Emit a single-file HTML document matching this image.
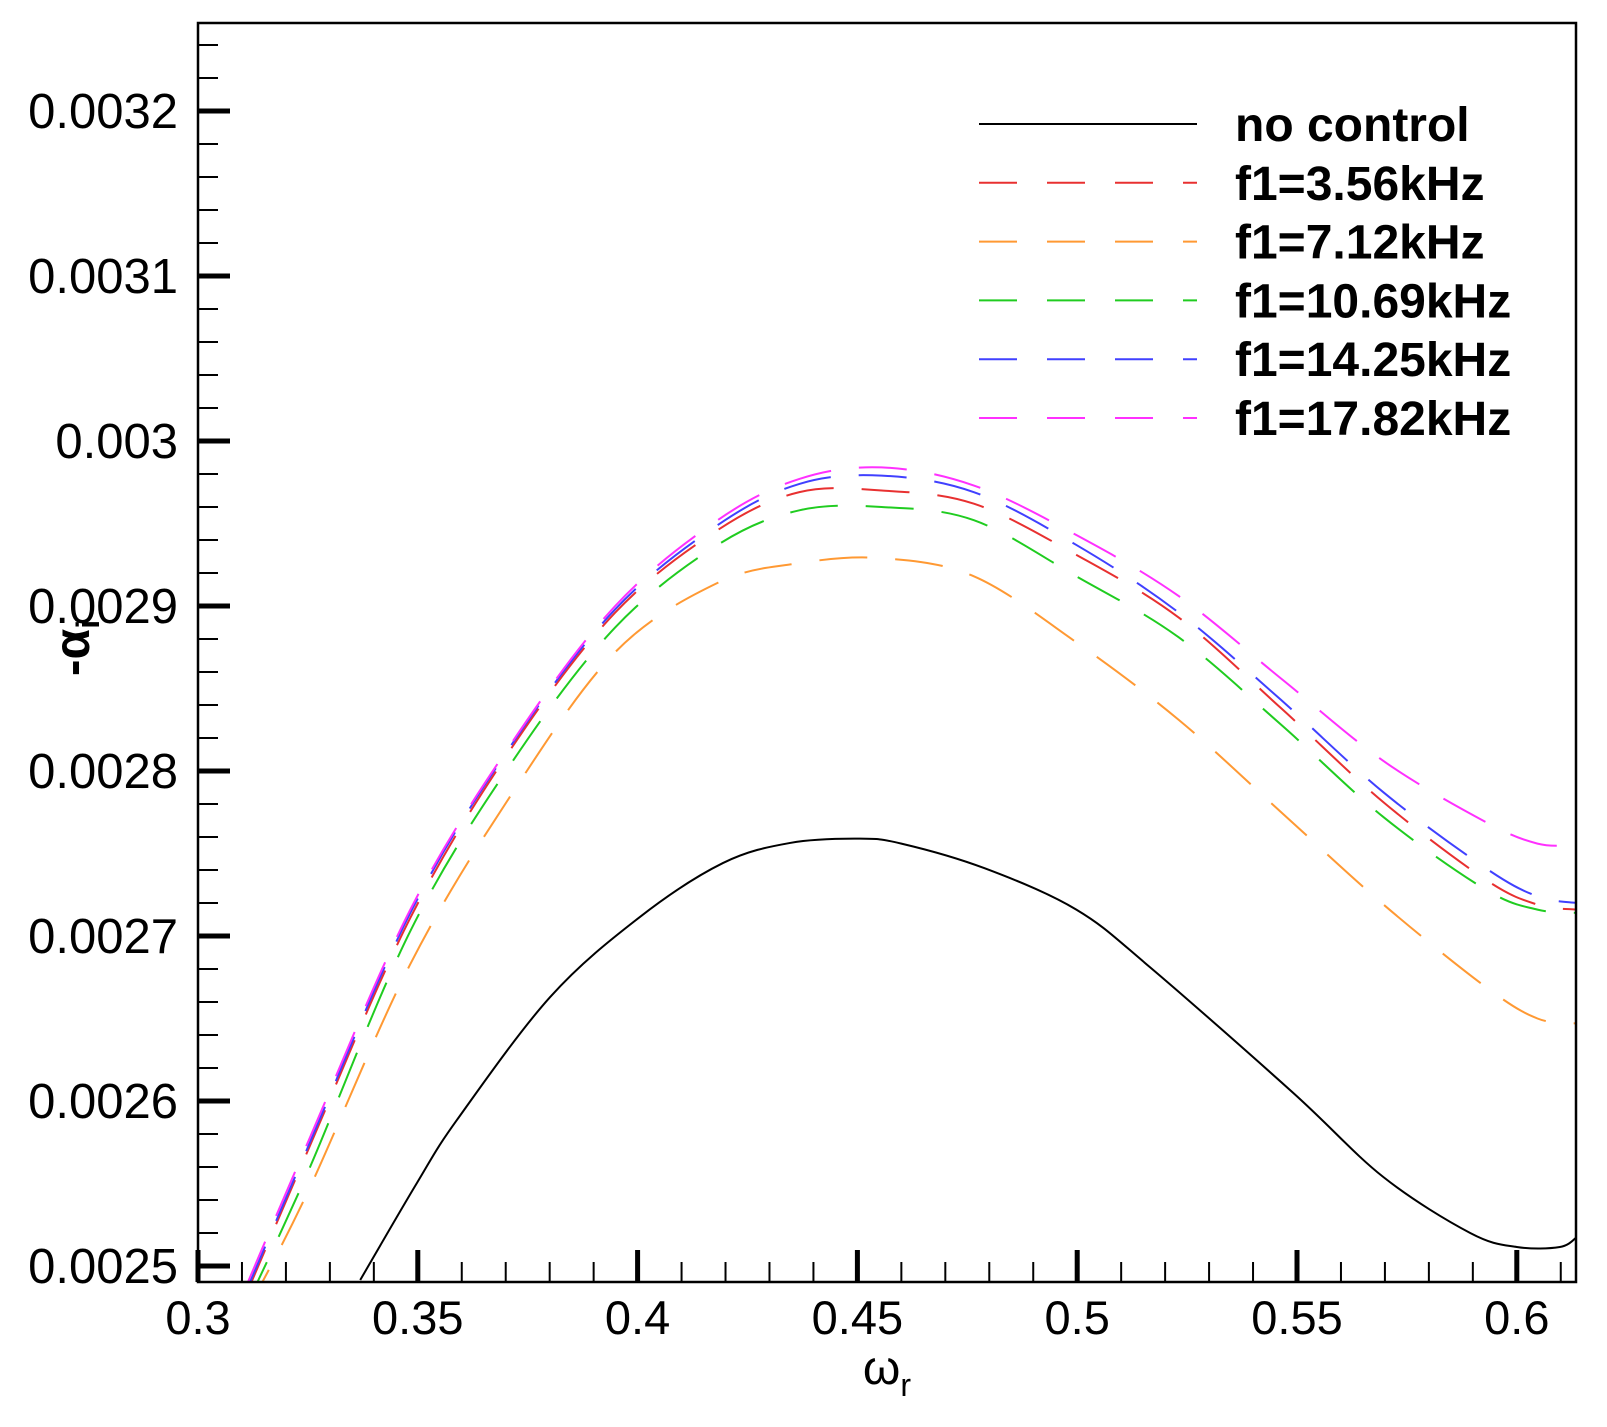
<!DOCTYPE html>
<html><head><meta charset="utf-8"><style>
body{margin:0;background:#fff}
svg{display:block;font-family:"Liberation Sans",Arial,sans-serif}
</style></head><body>
<svg id="chart" width="1607" height="1427" viewBox="0 0 1607 1427">
<defs><clipPath id="clip"><rect x="198" y="23" width="1378" height="1259"/></clipPath></defs>
<g id="ticks"></g>
<g id="curves" clip-path="url(#clip)"></g>
<rect x="198" y="23" width="1378" height="1259" fill="none" stroke="#000" stroke-width="2.5"/>
<g id="legend"></g>
<text x="887" y="1384" font-size="48" text-anchor="middle">ω<tspan font-size="32" dy="12">r</tspan></text>
<text transform="translate(89,648) rotate(-90)" font-size="50" font-weight="bold" text-anchor="middle">-α<tspan font-size="32" dy="10">i</tspan></text>
</svg>
<script>
const omega=[0.311,0.325,0.3483,0.3716,0.3949,0.4182,0.4368,0.4555,0.4765,0.4998,0.5231,0.5464,0.5697,0.593,0.6047,0.6135];
const magenta=[0.002488,0.002575,0.002716,0.002818,0.002900,0.002952,0.002977,0.002984,0.002973,0.002943,0.002906,0.002856,0.002806,0.002769,0.002756,0.002755];
const blue=[0.002485,0.002572,0.002714,0.002817,0.002898,0.002949,0.002974,0.002979,0.002969,0.002937,0.002896,0.002843,0.002787,0.002741,0.002724,0.002720];
const red=[0.002483,0.002570,0.002711,0.002815,0.002896,0.002946,0.002969,0.002970,0.002962,0.002931,0.002893,0.002838,0.002781,0.002734,0.002719,0.002716];
const green=[0.002476,0.002557,0.002703,0.002806,0.002887,0.002937,0.002958,0.002960,0.002952,0.002918,0.002881,0.002828,0.002772,0.002728,0.002716,0.002714];
const orange=[0.002472,0.002545,0.002683,0.002787,0.002872,0.002914,0.002926,0.002929,0.002918,0.002878,0.002831,0.002775,0.002719,0.002669,0.002650,0.002647];
const omegaBase=[0.3369,0.3498,0.3589,0.3801,0.4005,0.4194,0.4347,0.4503,0.460,0.479,0.4998,0.5166,0.5491,0.5696,0.5894,0.600,0.6098,0.6137];
const noControl=[0.0024915,0.0025503,0.0025885,0.002663,0.0027115,0.0027442,0.0027564,0.002759,0.002756,0.002741,0.002716,0.002681,0.002605,0.002554,0.002520,0.0025115,0.0025115,0.0025176];
const xTicks=[0.3,0.35,0.4,0.45,0.5,0.55,0.6];
const xTickLabels=["0.3","0.35","0.4","0.45","0.5","0.55","0.6"];
const yTicks=[0.0025,0.0026,0.0027,0.0028,0.0029,0.003,0.0031,0.0032];
const yTickLabels=["0.0025","0.0026","0.0027","0.0028","0.0029","0.003","0.0031","0.0032"];
const legendLabels=["no control","f1=3.56kHz","f1=7.12kHz","f1=10.69kHz","f1=14.25kHz","f1=17.82kHz"];

const NS="http://www.w3.org/2000/svg";
const X=w=>198+(w-0.3)/0.05*219.8;
const Y=v=>111+(0.0032-v)/0.0001*165;
function mk(tag,attrs,parent){const e=document.createElementNS(NS,tag);for(const k in attrs)e.setAttribute(k,attrs[k]);parent.appendChild(e);return e;}
function pathD(xs,ys){
  const p=xs.map((x,i)=>[X(x),Y(ys[i])]);
  let d="M"+p[0][0]+","+p[0][1];
  for(let i=0;i<p.length-1;i++){
    const p0=p[Math.max(i-1,0)],p1=p[i],p2=p[i+1],p3=p[Math.min(i+2,p.length-1)];
    const c1=[p1[0]+(p2[0]-p0[0])/6,p1[1]+(p2[1]-p0[1])/6],c2=[p2[0]-(p3[0]-p1[0])/6,p2[1]-(p3[1]-p1[1])/6];
    d+=` C${c1[0]},${c1[1]} ${c2[0]},${c2[1]} ${p2[0]},${p2[1]}`;
  }
  return d;
}
const ticks=document.getElementById('ticks');
for(let k=0;k<=31;k++){const w=0.3+k*0.01;const x=X(w);const major=k%5===0;
  const t=mk('line',{x1:x,x2:x,y1:1282,y2:1282-(major?32:20),stroke:'#000','stroke-width':major?5:2},ticks);
  
  }
for(let k=0;k<=38;k++){const v=0.0025+k*0.00002;if(v>0.003254)break;const y=Y(v);const major=k%5===0;
  const t=mk('line',{x1:198,x2:198+(major?32:20),y1:y,y2:y,stroke:'#000','stroke-width':major?5:2},ticks);
  
  }
xTicks.forEach((w,i)=>{const t=mk('text',{x:X(w),y:1334,'font-size':47,'text-anchor':'middle'},ticks);t.textContent=xTickLabels[i];
  
  });
yTicks.forEach((v,i)=>{const t=mk('text',{x:178,y:Y(v)+17,'font-size':49,'text-anchor':'end'},ticks);t.textContent=yTickLabels[i];
  
  });
const curves=document.getElementById('curves');
const series=[[noControl,'#000',null,'no-control-line',omegaBase],[red,'#e83030','48 28','f1-3.56khz-line',omega],[orange,'#ff9933','48 28','f1-7.12khz-line',omega],[green,'#20cc20','48 28','f1-10.69khz-line',omega],[blue,'#4040ff','48 28','f1-14.25khz-line',omega],[magenta,'#ff30ff','48 28','f1-17.82khz-line',omega]];
series.forEach(s=>{const a={d:pathD(s[4],s[0]),fill:'none',stroke:s[1],'stroke-width':2};if(s[2])a['stroke-dasharray']=s[2];
  const p=mk('path',a,curves);
  
  });
const lg=document.getElementById('legend');
legendLabels.forEach((lab,i)=>{const y=124+i*58.8;const s=series[i];
  const a={x1:979,x2:1197,y1:y,y2:y,stroke:s[1],'stroke-width':2};if(s[2])a['stroke-dasharray']='38 30';
  const l=mk('line',a,lg);
  
  
  const t=mk('text',{x:1235,y:y+17,'font-size':48,'font-weight':'bold'},lg);t.textContent=lab;
  
  });
</script>
</body></html>
